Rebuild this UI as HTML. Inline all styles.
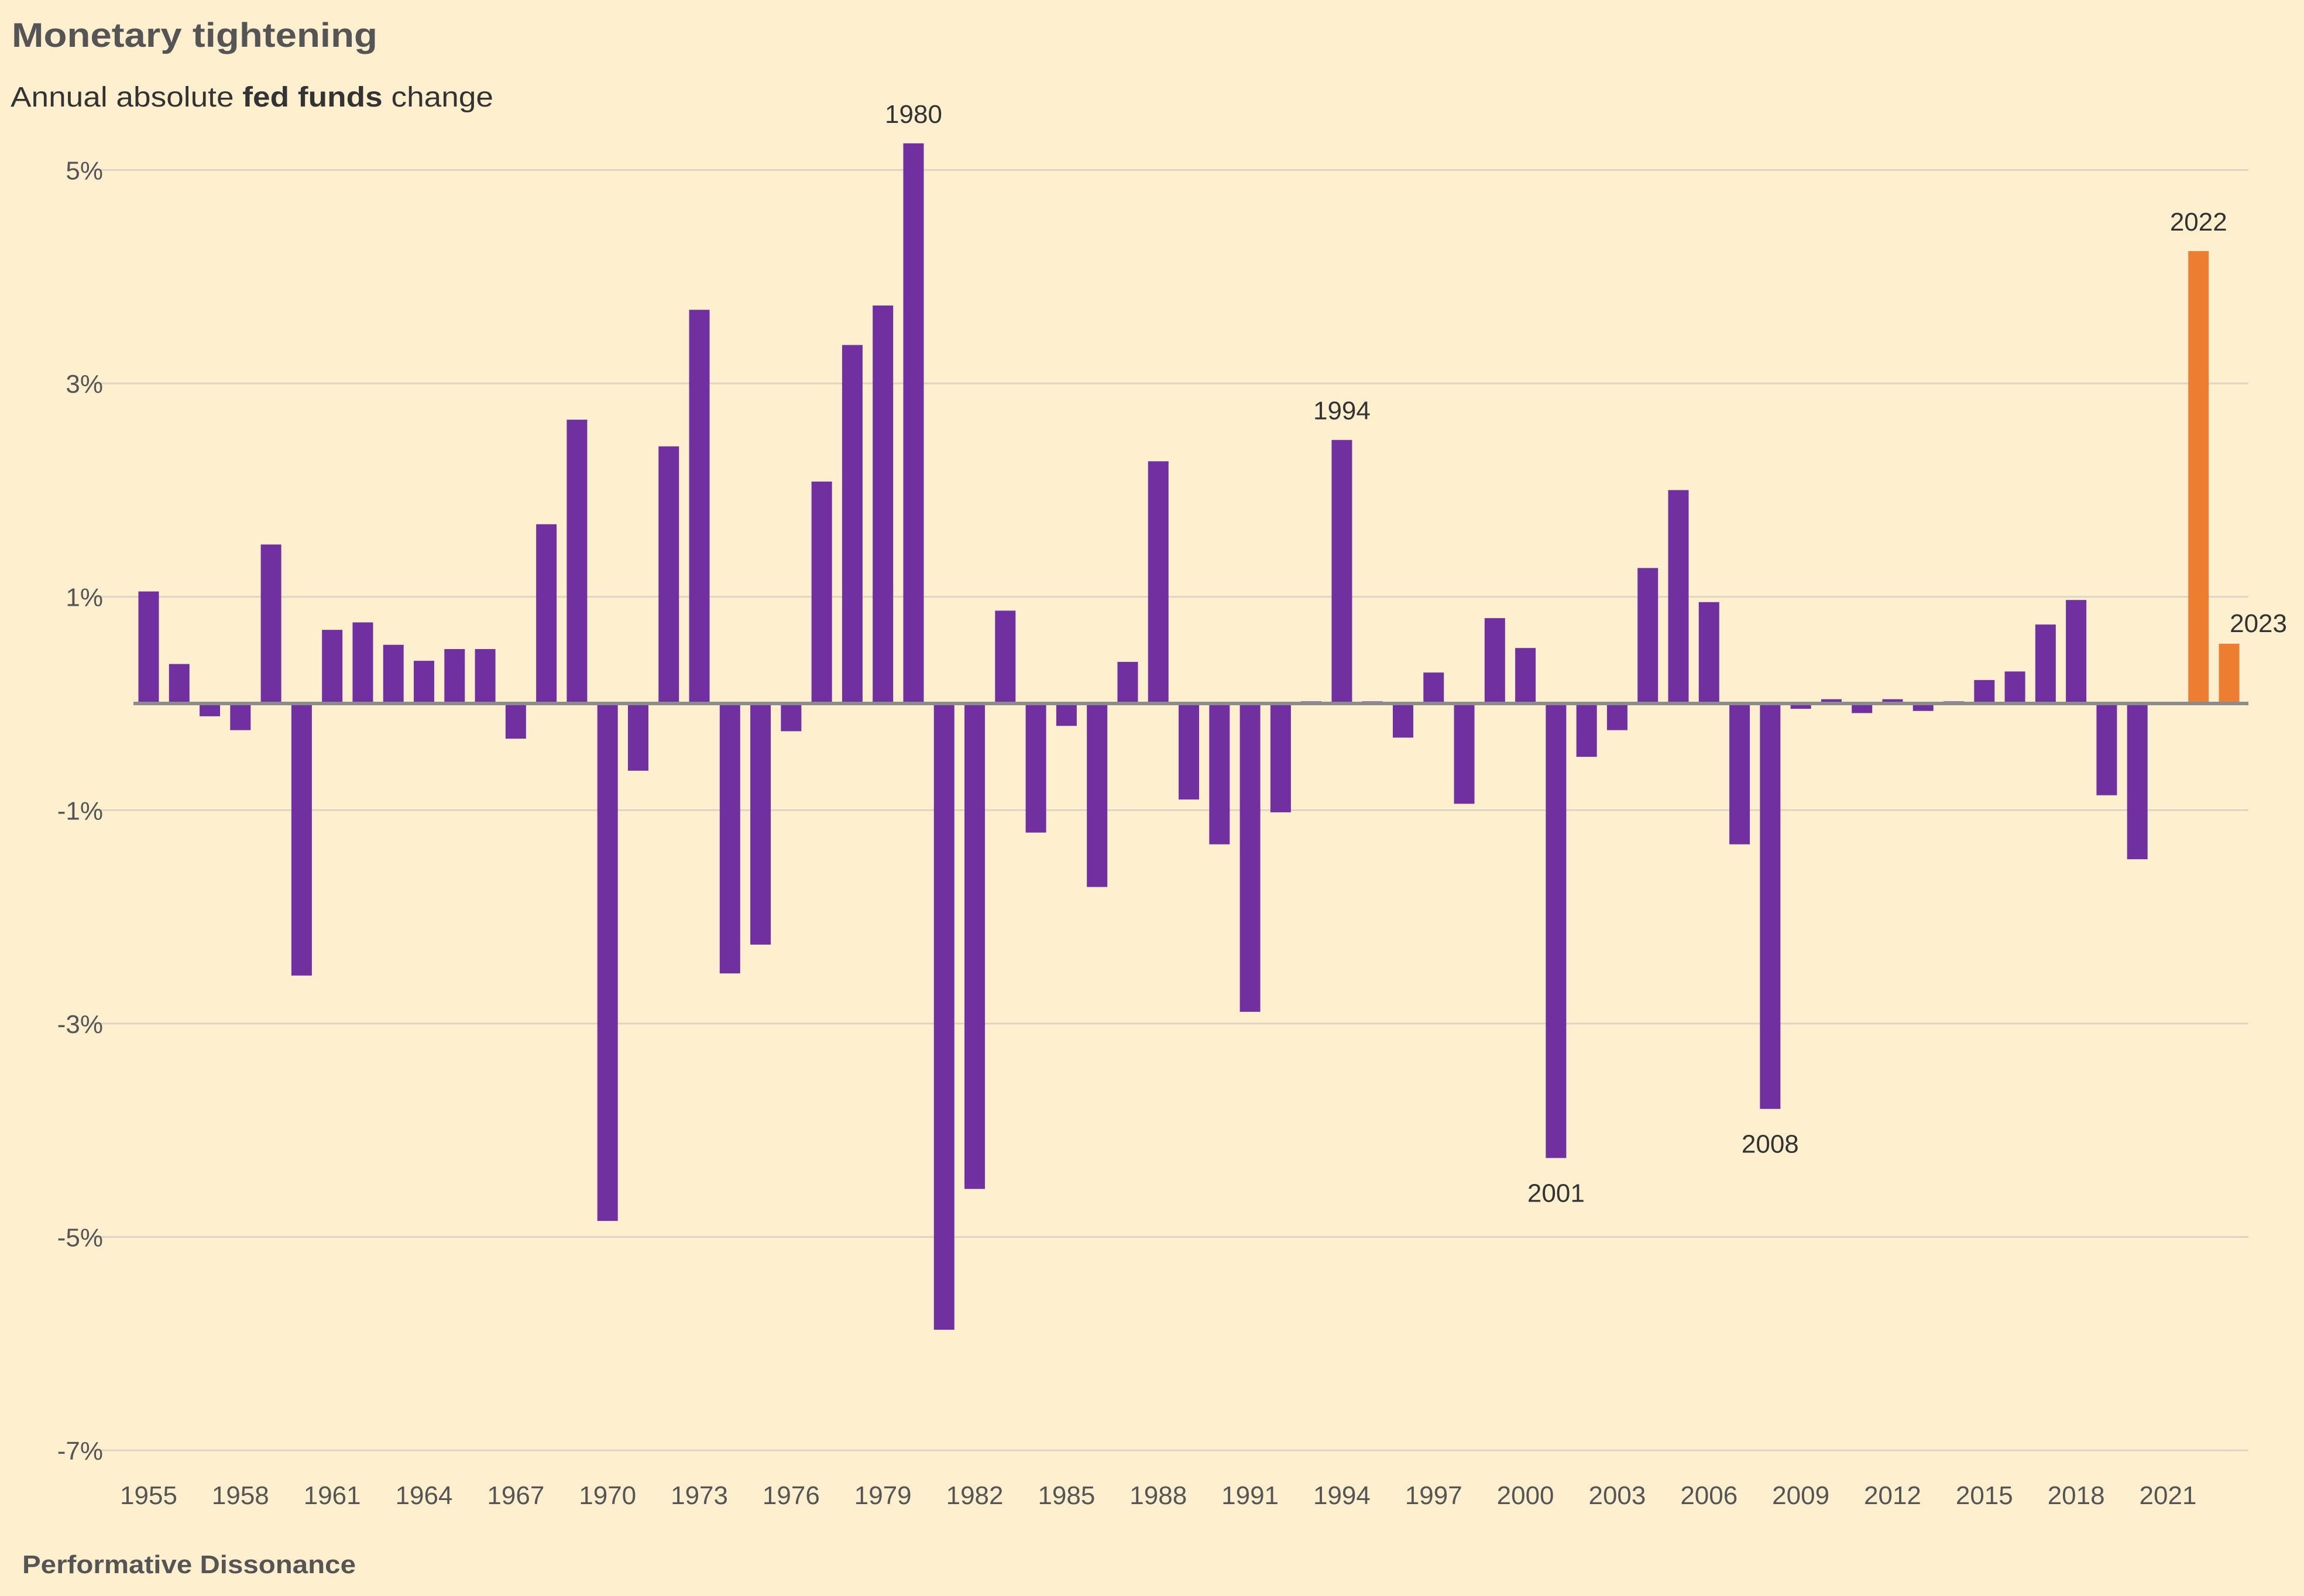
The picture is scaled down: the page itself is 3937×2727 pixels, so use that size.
<!DOCTYPE html>
<html><head><meta charset="utf-8"><style>
html,body{margin:0;padding:0;background:#FEF0CF;}
svg{display:block;font-family:"Liberation Sans",sans-serif;}
</style></head><body>
<svg id="chart" width="3937" height="2727" viewBox="0 0 3937 2727" xmlns="http://www.w3.org/2000/svg">
<rect x="0" y="0" width="3937" height="2727" fill="#FEF0CF"/>
<text x="20" y="80" font-size="58" font-weight="bold" fill="#555" textLength="625" lengthAdjust="spacingAndGlyphs">Monetary tightening</text>
<text x="18" y="182" font-size="48" fill="#333" textLength="825" lengthAdjust="spacingAndGlyphs">Annual absolute <tspan font-weight="bold">fed funds</tspan> change</text>
<text x="38" y="2688" font-size="44" font-weight="bold" fill="#555" textLength="570" lengthAdjust="spacingAndGlyphs">Performative Dissonance</text>
<g id="grid"></g><g id="bars"></g><g id="labels"></g>
</svg>
<script>
const years = [];
for (let y = 1955; y <= 2023; y++) years.push(y);
const values = [1.05,0.37,-0.12,-0.25,1.49,-2.55,0.69,0.76,0.55,0.40,0.51,0.51,-0.33,1.68,2.66,-4.85,-0.63,2.41,3.69,-2.53,-2.26,-0.26,2.08,3.36,3.73,5.25,-5.87,-4.55,0.87,-1.21,-0.21,-1.72,0.39,2.27,-0.90,-1.32,-2.89,-1.02,0.02,2.47,0.02,-0.32,0.29,-0.94,0.80,0.52,-4.26,-0.50,-0.25,1.27,2.00,0.95,-1.32,-3.80,-0.05,0.04,-0.09,0.04,-0.07,0.02,0.22,0.30,0.74,0.97,-0.86,-1.46,0.00,4.24,0.56];
const yTicks = [5,3,1,-1,-3,-5,-7];
const xTickYears = [1955,1958,1961,1964,1967,1970,1973,1976,1979,1982,1985,1988,1991,1994,1997,2000,2003,2006,2009,2012,2015,2018,2021];
const highlightYears = [2022,2023];
const annotations = [[1980,'above'],[1994,'above'],[2001,'below'],[2008,'below'],[2022,'above'],[2023,'right']];

const NS = 'http://www.w3.org/2000/svg';
const zeroY = 1202, pxPer = 182.3;
const yScale = v => zeroY - v * pxPer;
const x0 = 254, step = 52.28;
const xScale = yr => x0 + (yr - 1955) * step;
const barW = 35;
function mk(tag, attrs, parent){const e=document.createElementNS(NS,tag);for(const k in attrs)e.setAttribute(k,attrs[k]);parent.appendChild(e);return e;}
const grid=document.getElementById('grid'), bars=document.getElementById('bars'), labels=document.getElementById('labels');

yTicks.forEach(t=>{
  const l=mk('line',{x1:159,x2:3842,y1:yScale(t),y2:yScale(t),stroke:'#DDD5C3','stroke-width':3},grid);
  
  
  const tx=mk('text',{x:176,y:yScale(t)+16,'text-anchor':'end','font-size':44,fill:'#555'},grid);
  tx.textContent=t+'%';
  
  
});
xTickYears.forEach(yr=>{
  const tx=mk('text',{x:xScale(yr),y:2570,'text-anchor':'middle','font-size':44,fill:'#555'},labels);
  tx.textContent=yr;
  
  
});
years.forEach((yr,i)=>{
  const v=values[i];
  const top=Math.min(yScale(v),zeroY), h=Math.abs(yScale(v)-zeroY);
  const r=mk('rect',{x:xScale(yr)-barW/2,y:top,width:barW,height:Math.max(h,1),fill:highlightYears.includes(yr)?'#ED7D31':'#7030A0'},bars);
  
  
});
const zl=mk('line',{x1:228,x2:3842,y1:zeroY,y2:zeroY,stroke:'#8C8C8C','stroke-width':6},bars);


annotations.forEach(([yr,pos])=>{
  const v=values[years.indexOf(yr)];
  let x=xScale(yr), y;
  if(pos==='above') y=yScale(v)-35;
  else if(pos==='below') y=yScale(v)+75;
  else { y=yScale(v)-20; x=x+50; }
  const tx=mk('text',{x:x,y:y,'text-anchor':'middle','font-size':44,fill:'#333'},labels);
  tx.textContent=yr;
  
  
});
</script>
</body></html>
